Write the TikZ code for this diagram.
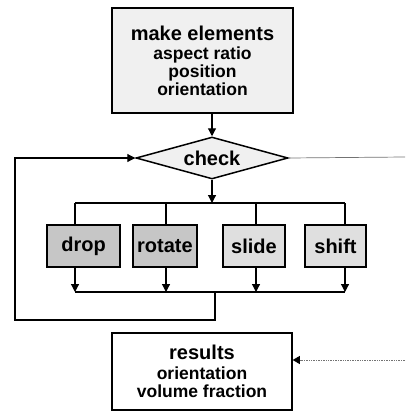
\documentclass[tikz,border=0pt]{standalone}
\usepackage{fontspec}
\setmainfont{Liberation Sans}
\usetikzlibrary{shapes.geometric,arrows.meta}
\begin{document}
\begin{tikzpicture}[x=1pt,y=-1pt,
  box/.style={draw=black,line width=1.5pt,fill=#1,inner sep=0pt,minimum height=42pt,
    font=\bfseries\fontsize{20}{20}\selectfont},
  sub/.style={align=center,font=\bfseries\fontsize{17.5}{18}\selectfont},
  wire/.style={line width=1.2pt},
  link/.style={wire,-{Triangle[width=8pt,length=8pt]}},
  faint/.style={line width=0.7pt,black!55}]
\useasboundingbox (0,0) rectangle (405,412);
% input block and test
\node[box=gray!12,sub,minimum width=181pt,minimum height=105pt] (elements) at (202.5,60.5)
  {{\fontsize{20}{20}\selectfont make elements}\\[1pt]aspect ratio\\position\\orientation};
\node[box=gray!12,diamond,aspect=3.6,minimum width=152pt,minimum height=42pt] (check) at (212,158) {check};
% the four moves
\node[box=gray!45,minimum width=73pt] (drop) at (83.5,246) {drop};
\node[box=gray!45,minimum width=64pt] (rotate) at (165,246) {rotate};
\node[box=gray!25,minimum width=62pt] (slide) at (254,246) {slide};
\node[box=gray!25,minimum width=61pt] (shift) at (335.5,246) {shift};
% output block
\node[box=white,sub,minimum width=180pt,minimum height=77pt] (results) at (202,371.5)
  {{\fontsize{20}{20}\selectfont results}\\[2pt]orientation\\volume fraction};
\coordinate (fork) at (212,203);
\coordinate (join) at (215,292);
\coordinate (loop) at (15,320);
\coordinate (exit) at (405,157);
\coordinate (entry) at (405,360);
\draw[link] (check.north |- elements.south) -- (check.north);
\draw[link] (check.south) -- (fork);
\draw[wire] (75,0 |- fork) -- (345,0 |- fork);
\draw[wire] (75,0 |- join) -- (345,0 |- join);
\foreach \n/\x in {drop/75,rotate/166,slide/256,shift/345}{
  \draw[wire] (\x,0 |- fork) -- (\x,0 |- \n.north);
  \draw[link] (\x,0 |- \n.south) -- (\x,0 |- join);
}
\draw[link] (join) |- (loop) |- (check.west);
\draw[faint] (check.east) -- (exit);
\draw[faint,densely dotted,-{Triangle[width=8pt,length=7pt,black]}] (entry) -- (entry -| results.east);
\end{tikzpicture}
\end{document}
